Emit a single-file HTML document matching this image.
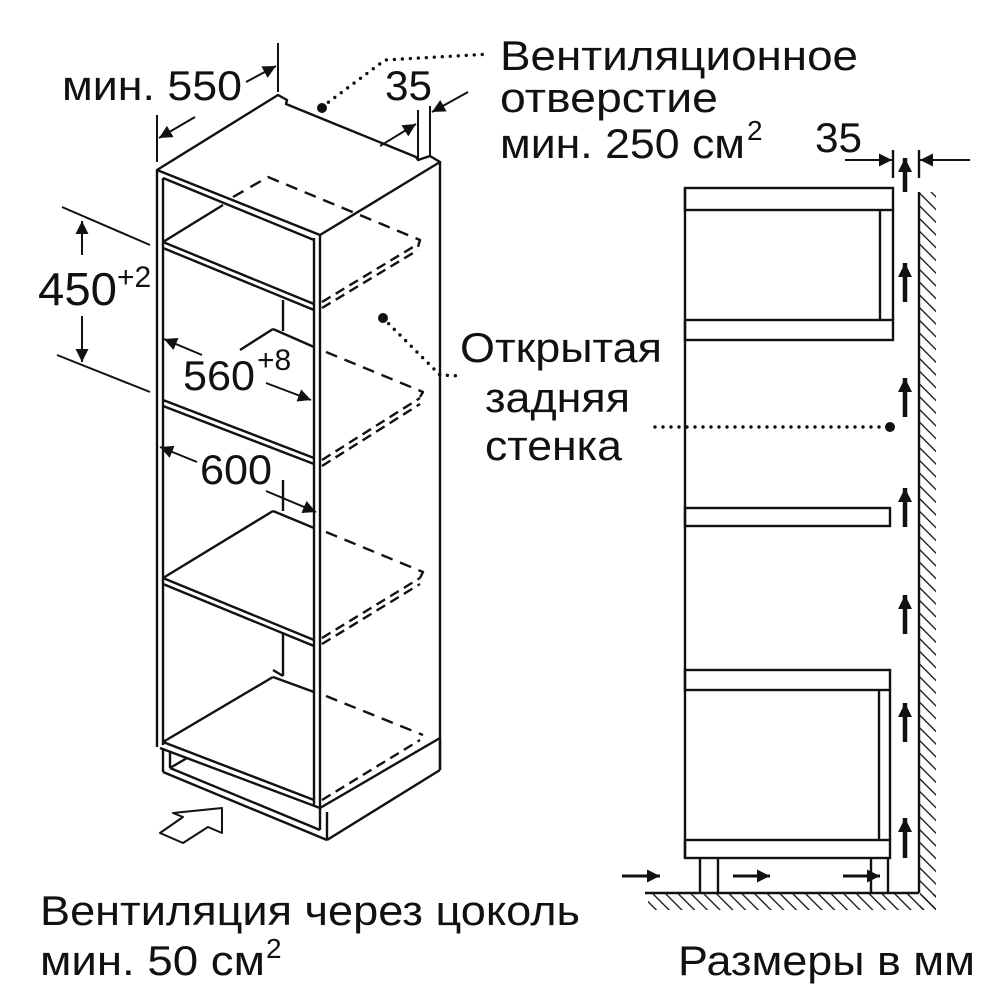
<!DOCTYPE html>
<html><head><meta charset="utf-8"><style>
html,body{margin:0;padding:0;background:#fff}
svg{display:block}
text{font-family:"Liberation Sans",sans-serif;fill:#111}
</style></head><body>
<svg width="1000" height="1000" viewBox="0 0 1000 1000" xmlns="http://www.w3.org/2000/svg">
<defs>
<marker id="a2" viewBox="0 0 10 10" refX="10" refY="5" markerWidth="20" markerHeight="13" orient="auto" markerUnits="userSpaceOnUse">
<path d="M0,0 L10,5 L0,10 z" fill="#111"/></marker>
<marker id="a3" viewBox="0 0 10 10" refX="10" refY="5" markerWidth="14" markerHeight="14" orient="auto" markerUnits="userSpaceOnUse">
<path d="M0,0 L10,5 L0,10 z" fill="#111"/></marker>
<pattern id="hw" width="9" height="9" patternUnits="userSpaceOnUse" patternTransform="rotate(-45)">
<line x1="0" y1="0" x2="0" y2="9" stroke="#111" stroke-width="2.6"/></pattern>
</defs>
<g fill="none" stroke="#111" stroke-width="2.4" stroke-linejoin="round">
<path d="M157,170 L278,95 L287,100 L286,104 L416,157 L418,160 L430,156 L440,162 L320,235 Z"/>
<line x1="157" y1="170" x2="157" y2="747"/><line x1="163" y1="178" x2="163" y2="745"/>
<line x1="320" y1="235" x2="320" y2="810"/><line x1="314" y1="238" x2="314" y2="806"/>
<line x1="440" y1="162" x2="440" y2="770"/>
<line x1="163" y1="178" x2="314" y2="240"/>
<line x1="163" y1="242" x2="314" y2="304"/><line x1="163" y1="248" x2="314" y2="310"/>
<line x1="163" y1="242" x2="223" y2="205"/>
<path d="M233,197 L268,177 L420,240 L418,247" stroke-dasharray="12,8"/>
<path d="M322,302 L418,244 M322,308 L418,250" stroke-dasharray="10,6"/>
<line x1="283" y1="300" x2="283" y2="331"/>
<line x1="163" y1="400" x2="314" y2="458"/><line x1="163" y1="406" x2="314" y2="464"/>
<line x1="240" y1="350" x2="273" y2="329"/><line x1="273" y1="329" x2="314" y2="347"/>
<path d="M326,352 L423,392 L420,397" stroke-dasharray="12,8"/>
<path d="M322,460 L420,398 M322,466 L420,404" stroke-dasharray="10,6"/>
<line x1="283" y1="480" x2="283" y2="511"/>
<line x1="163" y1="578" x2="314" y2="640"/><line x1="163" y1="584" x2="314" y2="646"/>
<line x1="163" y1="578" x2="273" y2="511"/><line x1="273" y1="511" x2="314" y2="528"/>
<path d="M326,532 L423,572 L420,578" stroke-dasharray="12,8"/>
<path d="M322,638 L420,578 M322,644 L420,584" stroke-dasharray="10,6"/>
<line x1="283" y1="633" x2="283" y2="676"/>
<line x1="163" y1="742" x2="314" y2="800"/><line x1="160" y1="748" x2="320" y2="808"/>
<line x1="163" y1="742" x2="273" y2="677"/><line x1="273" y1="677" x2="314" y2="692"/>
<line x1="273" y1="670" x2="283" y2="676"/>
<path d="M326,696 L423,735" stroke-dasharray="12,8"/>
<path d="M322,800 L420,740" stroke-dasharray="10,6"/>
<line x1="440" y1="738" x2="320" y2="808"/>
<line x1="440" y1="738" x2="440" y2="770"/>
<line x1="440" y1="770" x2="327" y2="840"/>
<line x1="163" y1="748" x2="163" y2="772"/><line x1="170" y1="752" x2="170" y2="768"/>
<line x1="163" y1="772" x2="327" y2="840"/><line x1="170" y1="768" x2="320" y2="830"/>
<line x1="170" y1="768" x2="187" y2="758"/>
<line x1="320" y1="808" x2="320" y2="830"/><line x1="327" y1="812" x2="327" y2="840"/>
<path d="M160,833 L183,817 L173,813 L222,808 L222,833 L208,827 L183,843 Z" stroke-width="2"/>
</g>
<g stroke="#111" stroke-width="2" fill="none">
<line x1="157" y1="115" x2="157" y2="162"/><line x1="278" y1="43" x2="278" y2="92"/>
<line x1="195" y1="117" x2="159" y2="138" marker-end="url(#a2)"/>
<line x1="246" y1="82" x2="276" y2="66" marker-end="url(#a2)"/>
<line x1="418" y1="110" x2="418" y2="160"/><line x1="430" y1="106" x2="430" y2="155"/>
<line x1="380" y1="146" x2="416" y2="124" marker-end="url(#a2)"/>
<line x1="468" y1="92" x2="432" y2="112" marker-end="url(#a2)"/>
<line x1="62" y1="207" x2="150" y2="245"/><line x1="57" y1="355" x2="150" y2="392"/>
<line x1="82" y1="255" x2="82" y2="221" marker-end="url(#a2)"/>
<line x1="82" y1="316" x2="82" y2="362" marker-end="url(#a2)"/>
<line x1="202" y1="355" x2="164" y2="339" marker-end="url(#a2)"/>
<line x1="266" y1="383" x2="311" y2="400" marker-end="url(#a2)"/>
<line x1="197" y1="462" x2="160" y2="447" marker-end="url(#a2)"/>
<line x1="266" y1="491" x2="316" y2="512" marker-end="url(#a2)"/>
</g>
<g stroke="#111" stroke-width="3.4" stroke-linecap="round" fill="none" stroke-dasharray="0,8">
<path d="M322,107 L385,60 L490,54"/>
<path d="M383,318 L440,375 L462,376"/>
<path d="M655,427 L888,427"/>
</g>
<circle cx="322" cy="108" r="5" fill="#111"/><circle cx="383" cy="318" r="5" fill="#111"/><circle cx="890" cy="427" r="5" fill="#111"/>
<g fill="none" stroke="#111" stroke-width="2.4">
<rect x="685" y="188" width="208" height="22"/>
<line x1="880" y1="210" x2="880" y2="320"/><line x1="893" y1="210" x2="893" y2="320"/>
<rect x="685" y="320" width="208" height="20"/>
<line x1="685" y1="188" x2="685" y2="858"/>
<rect x="685" y="508" width="205" height="18"/>
<rect x="685" y="670" width="205" height="20"/>
<line x1="879" y1="690" x2="879" y2="840"/><line x1="890" y1="690" x2="890" y2="840"/>
<rect x="685" y="840" width="205" height="18"/>
<line x1="700" y1="858" x2="700" y2="893"/><line x1="718" y1="858" x2="718" y2="893"/>
<line x1="871" y1="858" x2="871" y2="893"/><line x1="888" y1="858" x2="888" y2="893"/>
<line x1="645" y1="893" x2="919" y2="893"/>
<line x1="919" y1="192" x2="919" y2="893"/>
<line x1="893" y1="150" x2="893" y2="178"/><line x1="919" y1="150" x2="919" y2="178"/>
</g>
<rect x="920" y="192" width="16" height="718" fill="url(#hw)"/>
<rect x="648" y="894" width="288" height="16" fill="url(#hw)"/>
<g stroke="#111" stroke-width="2">
<line x1="845" y1="160" x2="892" y2="160" marker-end="url(#a2)"/>
<line x1="970" y1="160" x2="920" y2="160" marker-end="url(#a2)"/>
</g>
<g stroke="#111" stroke-width="4.5">
<line x1="905" y1="192" x2="905" y2="158" marker-end="url(#a3)"/>
<line x1="905" y1="302" x2="905" y2="263" marker-end="url(#a3)"/>
<line x1="905" y1="417" x2="905" y2="378" marker-end="url(#a3)"/>
<line x1="905" y1="527" x2="905" y2="488" marker-end="url(#a3)"/>
<line x1="905" y1="634" x2="905" y2="595" marker-end="url(#a3)"/>
<line x1="905" y1="742" x2="905" y2="703" marker-end="url(#a3)"/>
<line x1="905" y1="858" x2="905" y2="818" marker-end="url(#a3)"/>
</g>
<g stroke="#111" stroke-width="3">
<line x1="622" y1="876" x2="660" y2="876" marker-end="url(#a2)"/>
<line x1="733" y1="876" x2="770" y2="876" marker-end="url(#a2)"/>
<line x1="843" y1="876" x2="880" y2="876" marker-end="url(#a2)"/>
</g>
<g font-size="42">
<text x="62" y="100" textLength="180" lengthAdjust="spacingAndGlyphs">мин. 550</text>
<text x="385" y="100" textLength="47" lengthAdjust="spacingAndGlyphs">35</text>
<text x="500" y="70" textLength="358" lengthAdjust="spacingAndGlyphs">Вентиляционное</text>
<text x="500" y="112" textLength="218" lengthAdjust="spacingAndGlyphs">отверстие</text>
<text x="500" y="158" textLength="245" lengthAdjust="spacingAndGlyphs">мин. 250 см</text>
<text x="747" y="140" font-size="28">2</text>
<text x="815" y="152" textLength="47" lengthAdjust="spacingAndGlyphs">35</text>
<text x="38" y="305" font-size="46" textLength="79" lengthAdjust="spacingAndGlyphs">450</text>
<text x="117" y="287" font-size="30">+2</text>
<text x="183" y="390" textLength="72" lengthAdjust="spacingAndGlyphs">560</text>
<text x="257" y="370" font-size="30">+8</text>
<text x="200" y="484" textLength="72" lengthAdjust="spacingAndGlyphs">600</text>
<text x="460" y="362" textLength="202" lengthAdjust="spacingAndGlyphs">Открытая</text>
<text x="485" y="412" textLength="145" lengthAdjust="spacingAndGlyphs">задняя</text>
<text x="485" y="460" textLength="137" lengthAdjust="spacingAndGlyphs">стенка</text>
<text x="40" y="925" textLength="540" lengthAdjust="spacingAndGlyphs">Вентиляция через цоколь</text>
<text x="40" y="975" textLength="225" lengthAdjust="spacingAndGlyphs">мин. 50 см</text>
<text x="266" y="958" font-size="28">2</text>
<text x="678" y="975" textLength="297" lengthAdjust="spacingAndGlyphs">Размеры в мм</text>
</g>
</svg>
</body></html>
